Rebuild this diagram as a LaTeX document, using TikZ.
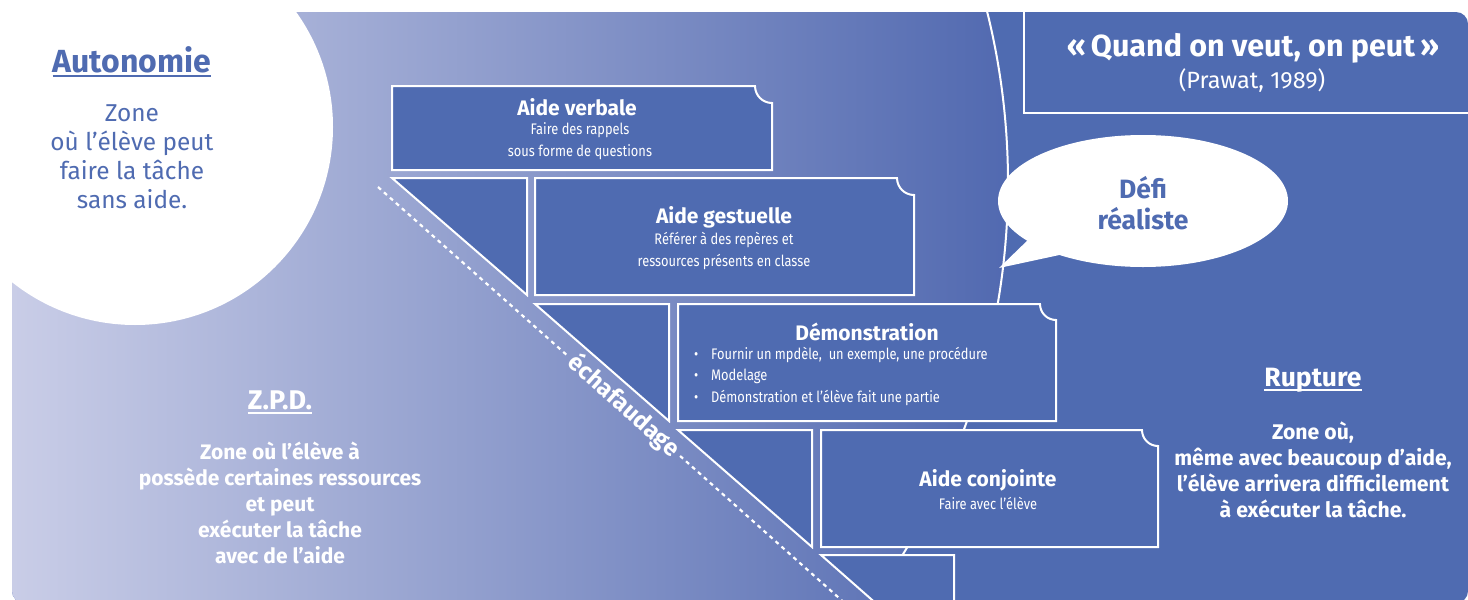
\documentclass[tikz,border=0pt]{standalone}
\usepackage{fontspec}
\setmainfont{Fira Sans}
\newfontfamily\condf[FakeStretch=0.84]{Fira Sans}
\definecolor{zblue}{HTML}{4F6BB1}
\definecolor{zlight}{HTML}{C9CDE7}
\definecolor{zmid}{HTML}{5169B0}
\tikzset{
  boxst/.style={fill=zblue, draw=white, line width=2pt, line join=miter},
  wline/.style={draw=white, line width=2pt},
  wtitle/.style={text=white, font=\bfseries\fontsize{21}{24}\selectfont, inner sep=0pt},
  wsmall/.style={text=white, font=\condf\fontsize{15.3}{21.5}\selectfont, align=center, inner sep=0pt},
  zonetitle/.style={text=white, font=\bfseries\fontsize{26.5}{28}\selectfont, inner sep=0pt},
  zonebody/.style={text=white, font=\bfseries\fontsize{21}{26}\selectfont, align=center, inner sep=0pt},
  uline/.style={line width=1.6pt},
}
\newcommand\nbox[5]{%
  \draw[boxst] (#1,#2) -- ({#3-#5},#2) .. controls ({#3-#5},{#2+0.552*#5}) and ({#3-0.552*#5},{#2+#5}) .. (#3,{#2+#5}) -- (#3,#4) -- (#1,#4) -- cycle;}
\newcommand\rtri[4]{%
  \draw[boxst] (#1,#2) -- (#3,#2) -- (#3,#4) -- cycle;}
\begin{document}
\begin{tikzpicture}[x=1pt,y=-1pt]
\useasboundingbox (0,0) rectangle (1468,600);
\begin{scope}
  \clip[rounded corners=12pt] (12,12) rectangle (1468,603);
  \fill[zblue] (12,12) rectangle (1468,603);
  \begin{scope}
    \clip (300,183) circle[radius=708];
    \shade[left color=zlight, right color=zmid] (12,12) rectangle (1010,603);
  \end{scope}
  \draw[wline] (300,183) circle[radius=708];
  % quote box
  \coordinate (qa) at (1024,0);
  \coordinate (qb) at (1024,113);
  \coordinate (qc) at (1480,113);
  \draw[wline] (qa) -- (qb) -- (qc);
  % scaffolding boxes
  \nbox{392}{86}{772}{170}{17}
  \rtri{392}{178}{527}{295}
  \nbox{535}{178}{914}{295}{17}
  \rtri{535}{304}{669}{421}
  \nbox{678}{304}{1056}{421}{16}
  \rtri{678}{430}{812}{547}
  \nbox{821}{430}{1158}{547}{16}
  \rtri{821}{555}{954}{672}
  % speech bubble
  \fill[white] (1143,201) ellipse[x radius=145, y radius=66];
  \coordinate (ta) at (1030,238);
  \coordinate (tb) at (999,268);
  \coordinate (tc) at (1064,254);
  \fill[white] (ta) -- (tb) -- (tc) -- cycle;
  % dashed scaffolding line
  \coordinate (dA) at (378,187);
  \coordinate (dB) at (848,606);
  \node[text=white, font=\bfseries\fontsize{24}{26}\selectfont, rotate=-41.7, inner sep=5pt] (ech) at (624,406) {échafaudage};
  \draw[white, line width=2.2pt, dash pattern=on 4pt off 4pt] (dA) -- (ech.west);
  \draw[white, line width=2.2pt, dash pattern=on 4pt off 4pt] (ech.east) -- (dB);
\end{scope}
% autonomie circle
\fill[white] (135,127) circle[radius=198];
\node[text=zblue, font=\bfseries\fontsize{32}{34}\selectfont, inner sep=0pt] (auto) at (132,60) {Autonomie};
\draw[zblue, uline] ([yshift=-3pt]auto.base west) -- ([yshift=-3pt]auto.base east);
\node[text=zblue, font=\fontsize{24.4}{29}\selectfont, align=center, inner sep=0pt] (autotxt) at (132,157) {Zone\\où l’élève peut\\faire la tâche\\sans aide.};
% quote
\node[text=white, font=\bfseries\fontsize{30.5}{34}\selectfont, inner sep=0pt] (quote) at (1253,48) {«\,Quand on veut, on peut\,»};
\node[text=white, font=\fontsize{23.5}{26}\selectfont, inner sep=0pt] (prawat) at (1252,81) {(Prawat, 1989)};
% bubble text
\node[text=zblue, font=\bfseries\fontsize{26.5}{31}\selectfont, align=center, inner sep=0pt] (defi) at (1143,203) {Défi\\réaliste};
% box texts
\node[wtitle] (t1) at (577,107) {Aide verbale};
\node[wsmall] (s1) at (580,141) {Faire des rappels\\sous forme de questions};
\node[wtitle] (t2) at (724,217) {Aide gestuelle};
\node[wsmall] (s2) at (724,251) {Référer à des repères et\\ressources présents en classe};
\node[wtitle] (t3) at (867,332) {Démonstration};
\node[wsmall, align=left, anchor=west] (s3) at (694,376) {\makebox[17pt][l]{•}Fournir un mpdèle,\ \ un exemple, une procédure\\\makebox[17pt][l]{•}Modelage\\\makebox[17pt][l]{•}Démonstration et l’élève fait une partie};
\node[wtitle] (t4) at (988,480) {Aide conjointe};
\node[wsmall] (s4) at (988,503) {Faire avec l’élève};
% ZPD
\node[zonetitle, font=\bfseries\fontsize{27}{28}\selectfont] (zpd) at (280,400) {Z.P.D.};
\draw[white, uline] ([yshift=-4pt]zpd.base west) -- ([yshift=-4pt]zpd.base east);
\node[zonebody] (zpdtxt) at (280,503) {Zone où l’élève à\\possède certaines ressources\\et peut\\exécuter la tâche\\avec de l’aide};
% Rupture
\node[zonetitle] (rup) at (1313,380) {Rupture};
\draw[white, uline] ([yshift=-4pt]rup.base west) -- ([yshift=-4pt]rup.base east);
\node[zonebody, font=\bfseries\fontsize{21.2}{26}\selectfont] (ruptxt) at (1313,470) {Zone où,\\même avec beaucoup d’aide,\\l’élève arrivera difficilement\\à exécuter la tâche.};
\end{tikzpicture}
\end{document}
